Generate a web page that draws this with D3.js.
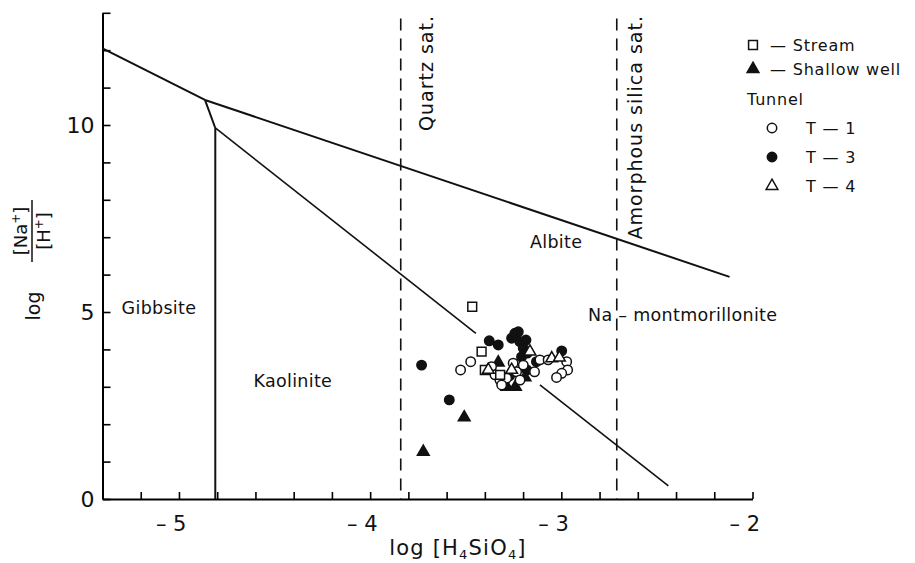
<!DOCTYPE html>
<html>
<head>
<meta charset="utf-8">
<script src="https://cdn.jsdelivr.net/npm/d3@7"></script>
<style>
  html, body { margin: 0; padding: 0; background: #fff; }
  svg { display: block; }
  text { font-family: "DejaVu Sans", "Liberation Sans", sans-serif; fill: #111; }
</style>
</head>
<body>
<svg id="chart" width="915" height="563"></svg>
<script>
// ---------------- data ----------------
const xDomain = [-5.4, -2];
const yDomain = [0, 13];
const xTickLabels = [-5, -4, -3, -2];
const yTickLabels = [0, 5, 10];

// Stream (open squares)
const stream = [[-3.466, 5.14], [-3.417, 3.94], [-3.40, 3.45], [-3.32, 3.32]];
// Shallow well (filled triangles)
const shallowWell = [[-3.508, 2.18], [-3.722, 1.26], [-3.33, 3.65], [-3.19, 3.25], [-3.285, 3.0], [-3.24, 3.0]];
// Tunnel T-1 (open circles)
const t1 = [[-3.527, 3.45], [-3.474, 3.67], [-3.365, 3.54], [-3.347, 3.32], [-3.321, 3.18], [-3.286, 3.23],
            [-3.252, 3.63], [-3.234, 3.40], [-3.199, 3.58], [-3.216, 3.18], [-3.312, 3.05], [-3.112, 3.72],
            [-3.069, 3.72], [-2.972, 3.67], [-2.967, 3.45], [-2.998, 3.36], [-3.025, 3.25], [-3.14, 3.40]];
// Tunnel T-3 (filled circles)
const t3 = [[-3.731, 3.58], [-3.586, 2.65], [-3.377, 4.23], [-3.330, 4.12], [-3.243, 4.43], [-3.225, 4.47],
            [-3.26, 4.30], [-3.217, 4.21], [-3.185, 4.25], [-3.199, 4.03], [-3.178, 3.90], [-3.208, 3.80],
            [-3.13, 3.67], [-2.998, 3.96], [-3.18, 3.45], [-3.27, 3.30]];
// Tunnel T-4 (open triangles)
const t4 = [[-3.382, 3.45], [-3.164, 3.94], [-3.05, 3.76], [-3.01, 3.78], [-3.26, 3.45]];

// stability-field boundaries (segment end points, in data units)
const boundaries = [
  [[-5.4, 12.05], [-4.864, 10.67]],
  [[-4.864, 10.67], [-2.12, 5.94]],
  [[-4.864, 10.67], [-4.81, 9.92]],
  [[-4.81, 9.92], [-4.81, 0]],
  [[-4.81, 9.92], [-3.447, 4.43]],
  [[-3.112, 3.05], [-2.44, 0.35]]
];
// saturation lines
const saturation = [
  { x: -3.84, label: "Quartz sat." },
  { x: -2.71, label: "Amorphous silica sat." }
];
const fieldLabels = [
  { text: "Gibbsite", x: -5.30, y: 4.95 },
  { text: "Kaolinite", x: -4.61, y: 3.00 },
  { text: "Albite", x: -3.164, y: 6.72 },
  { text: "Na – montmorillonite", x: -2.86, y: 4.75 }
];

// ---------------- drawing ----------------
const svg = d3.select("#chart");
const x = d3.scaleLinear().domain(xDomain).range([102.5, 752.5]);
const y = d3.scaleLinear().domain(yDomain).range([499, 12.8]);

// axes
const minorX = d3.range(0, 18).map(i => +(-5.4 + i * 0.2).toFixed(2));
const xAxis = d3.axisBottom(x).tickValues(minorX).tickSize(-7).tickSizeOuter(0).tickPadding(17)
  .tickFormat(d => xTickLabels.some(v => Math.abs(v - d) < 1e-6) ? "– " + Math.abs(d) : "");
const gx = svg.append("g").attr("transform", `translate(0,${y(0)})`).call(xAxis);
gx.selectAll("text").attr("font-size", 21).attr("text-anchor", "end").attr("dx", 7)
  .style("font-family", "DejaVu Sans");
gx.select(".domain").attr("stroke-width", 2);
gx.selectAll(".tick line").attr("stroke-width", 1.6);

const yAxis = d3.axisLeft(y).tickValues(d3.range(0, 14)).tickSize(-8).tickSizeOuter(0).tickPadding(8)
  .tickFormat(d => yTickLabels.includes(d) ? d : "");
const gy = svg.append("g").attr("transform", `translate(${x(-5.4)},0)`).call(yAxis);
gy.selectAll("text").attr("font-size", 22).style("font-family", "DejaVu Sans");
gy.select(".domain").attr("stroke-width", 2);
gy.selectAll(".tick line").attr("stroke-width", 1.6);

// saturation lines
svg.append("g").selectAll("line").data(saturation).join("line")
  .attr("x1", d => x(d.x)).attr("x2", d => x(d.x))
  .attr("y1", y(12.85)).attr("y2", y(0))
  .attr("stroke", "#111").attr("stroke-width", 1.6).attr("stroke-dasharray", "12,8");
svg.append("g").selectAll("text").data(saturation).join("text")
  .attr("transform", (d, i) => `translate(${x(d.x) + (i === 0 ? 32 : 25)},15) rotate(-90)`)
  .attr("text-anchor", "end").attr("font-size", 19).attr("letter-spacing", 1)
  .text(d => d.label);

// boundaries
const line = d3.line().x(d => x(d[0])).y(d => y(d[1]));
svg.append("g").selectAll("path").data(boundaries).join("path")
  .attr("d", line).attr("fill", "none").attr("stroke", "#111")
  .attr("stroke-width", (d, i) => i >= 4 ? 1.6 : 2);

// field labels
svg.append("g").selectAll("text").data(fieldLabels).join("text")
  .attr("x", d => x(d.x)).attr("y", d => y(d.y))
  .attr("font-size", 17.5).attr("letter-spacing", 0.3)
  .text(d => d.text);

// markers
const symCircle = d3.symbol().type(d3.symbolCircle).size(70);
const symSquare = d3.symbol().type(d3.symbolSquare).size(78);
const symTri = d3.symbol().type(d3.symbolTriangle).size(60);
function plot(data, sym, filled) {
  svg.append("g").selectAll("path").data(data).join("path")
    .attr("transform", d => `translate(${x(d[0])},${y(d[1])})`)
    .attr("d", sym)
    .attr("fill", filled ? "#111" : "#fff")
    .attr("stroke", "#111").attr("stroke-width", 1.5);
}
plot(t3, symCircle, true);
plot(shallowWell, symTri, true);
plot(t1, symCircle, false);
plot(stream, symSquare, false);
plot(t4, symTri, false);

// axis titles
const xt = svg.append("text").attr("x", 458).attr("y", 555).attr("text-anchor", "middle")
  .attr("font-size", 21).attr("letter-spacing", 1.2);
xt.append("tspan").text("log [H");
xt.append("tspan").attr("font-size", 13).attr("dy", 4).text("4");
xt.append("tspan").attr("dy", -4).text("SiO");
xt.append("tspan").attr("font-size", 13).attr("dy", 4).text("4");
xt.append("tspan").attr("dy", -4).text("]");

const yt = svg.append("g").attr("transform", "translate(32,262) rotate(-90)");
yt.append("text").attr("x", -44).attr("y", 8).attr("text-anchor", "middle").attr("font-size", 19).text("log");
const num = yt.append("text").attr("x", 31).attr("y", -5).attr("text-anchor", "middle").attr("font-size", 18);
num.append("tspan").text("[Na");
num.append("tspan").attr("font-size", 12).attr("dy", -7).text("+");
num.append("tspan").attr("dy", 7).text("]");
yt.append("line").attr("x1", 0).attr("x2", 62).attr("y1", 0).attr("y2", 0).attr("stroke", "#111").attr("stroke-width", 1.5);
const den = yt.append("text").attr("x", 31).attr("y", 18).attr("text-anchor", "middle").attr("font-size", 18);
den.append("tspan").text("[H");
den.append("tspan").attr("font-size", 12).attr("dy", -7).text("+");
den.append("tspan").attr("dy", 7).text("]");

// legend
const legendRows = [
  { sym: symSquare, filled: false, mx: 753, tx: 770, y: 45, text: "— Stream" },
  { sym: symTri, filled: true, mx: 753, tx: 770, y: 69, text: "— Shallow well" },
  { sym: null, tx: 747, y: 99, text: "Tunnel" },
  { sym: symCircle, filled: false, mx: 772, tx: 806, y: 128, text: "T — 1" },
  { sym: symCircle, filled: true, mx: 772, tx: 806, y: 157, text: "T — 3" },
  { sym: symTri, filled: false, mx: 772, tx: 806, y: 186, text: "T — 4" }
];
const lg = svg.append("g");
legendRows.forEach(r => {
  if (r.sym) {
    lg.append("path").attr("transform", `translate(${r.mx},${r.y})`).attr("d", r.sym)
      .attr("fill", r.filled ? "#111" : "#fff").attr("stroke", "#111").attr("stroke-width", 1.5);
  }
  lg.append("text").attr("x", r.tx).attr("y", r.y + 6).attr("font-size", 16).attr("letter-spacing", 0.8)
    .attr("xml:space", "preserve").text(r.text);
});
</script>
</body>
</html>
